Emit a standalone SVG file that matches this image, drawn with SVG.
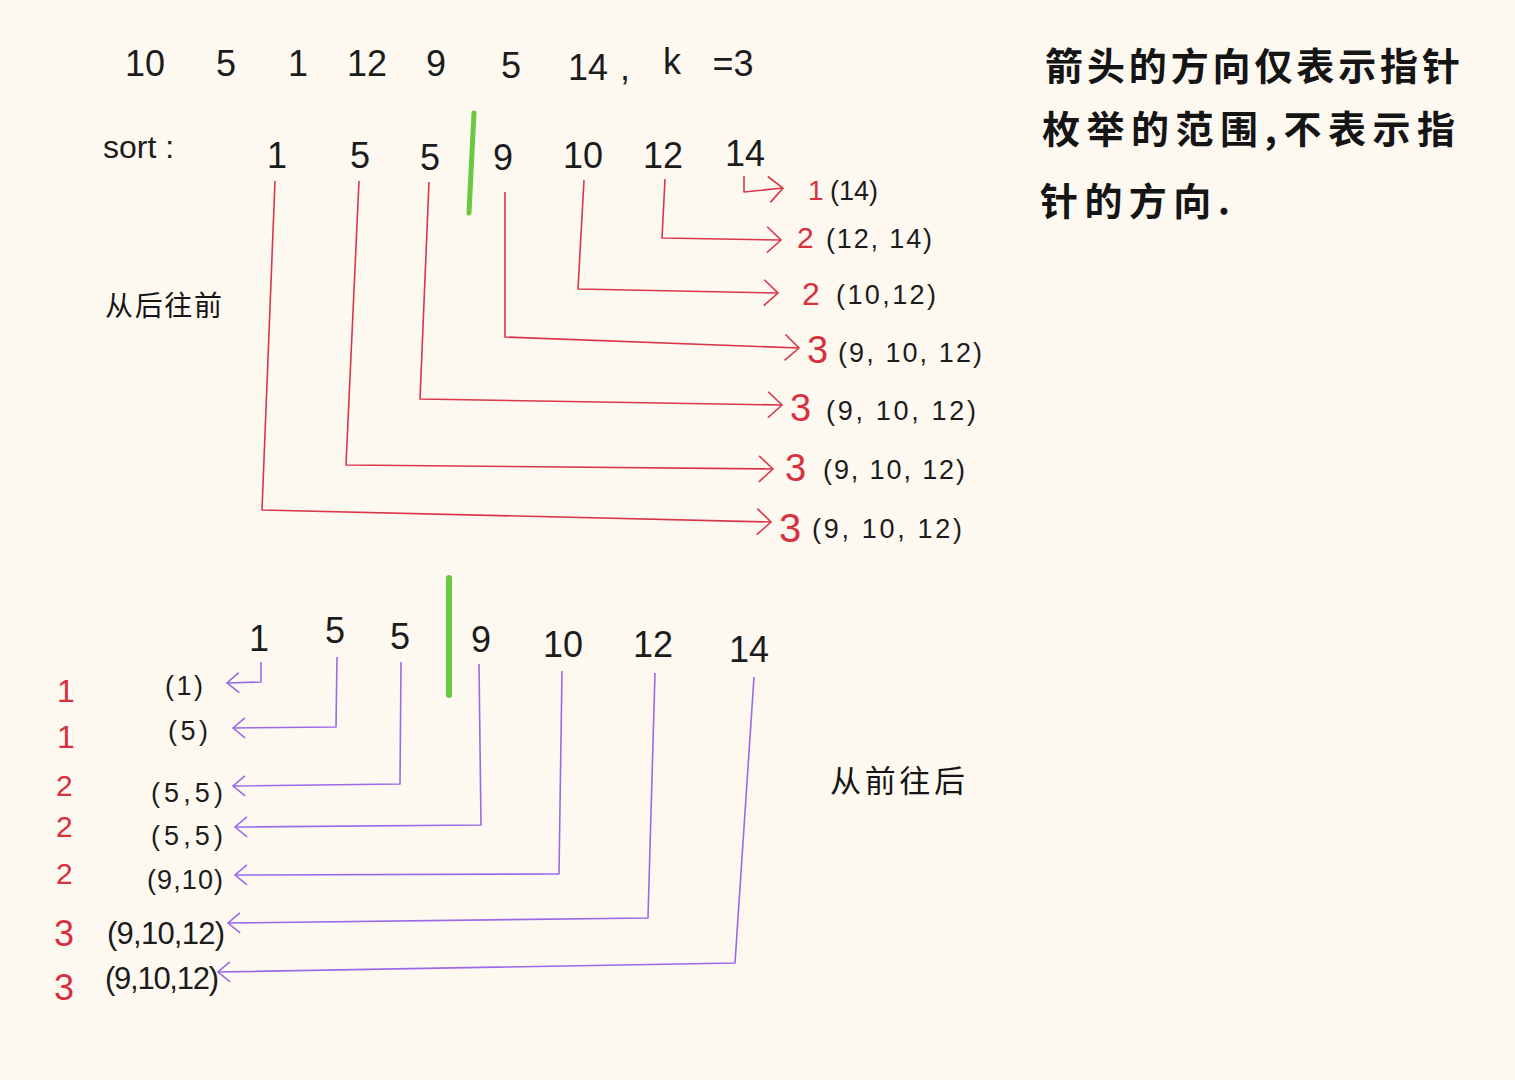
<svg xmlns="http://www.w3.org/2000/svg" width="1515" height="1080" viewBox="0 0 1515 1080">
<style>
.bg{fill:#fdf9f1}
.t{font-family:"Liberation Sans","Noto Sans CJK SC",sans-serif;fill:#1c1c1c}
.n{font-size:36px;text-anchor:middle}
.lab{font-size:27px}
.r{fill:#d7303f}
.cn{font-family:"Noto Sans CJK SC",sans-serif;fill:#151515}
.rl{fill:none;stroke:#d9364a;stroke-width:1.6;stroke-linejoin:round}
.pl{fill:none;stroke:#9b6ae8;stroke-width:1.6;stroke-linejoin:round}
.gb{fill:none;stroke:#6cc743;stroke-linecap:round}
</style>
<defs>
<marker id="ar" markerUnits="userSpaceOnUse" markerWidth="20" markerHeight="30" refX="15" refY="14" orient="auto" viewBox="0 0 20 30">
<path d="M1,1 L15,14 L1,27" fill="none" stroke="#d9364a" stroke-width="1.6"/>
</marker>
<marker id="ap" markerUnits="userSpaceOnUse" markerWidth="20" markerHeight="26" refX="15" refY="12" orient="auto" viewBox="0 0 20 26">
<path d="M3,2 L15,12 L3,22" fill="none" stroke="#9b6ae8" stroke-width="1.6"/>
</marker>
</defs>
<rect class="bg" x="0" y="0" width="1515" height="1080"/>

<g id="input-row" class="t">
<text class="n" x="145" y="76">10</text>
<text class="n" x="226" y="76">5</text>
<text class="n" x="298" y="76">1</text>
<text class="n" x="367" y="76">12</text>
<text class="n" x="436" y="76">9</text>
<text class="n" x="511" y="78">5</text>
<text class="n" x="588" y="80">14</text>
<text class="n" x="625" y="80">,</text>
<text class="n" x="672" y="74">k</text>
<text class="n" x="733" y="76">=3</text>
</g>

<g id="sorted-top" class="t">
<text x="103" y="158" style="font-size:32px">sort :</text>
<text class="n" x="277" y="168">1</text>
<text class="n" x="360" y="168">5</text>
<text class="n" x="430" y="170">5</text>
<text class="n" x="503" y="170">9</text>
<text class="n" x="583" y="168">10</text>
<text class="n" x="663" y="168">12</text>
<text class="n" x="745" y="166">14</text>
</g>
<g id="divider-top"><path class="gb" d="M474,113 L469,213" stroke-width="5"/></g>

<g id="note" class="cn">
<text x="1045" y="80" style="font-size:38px;font-weight:bold" textLength="415" lengthAdjust="spacing">箭头的方向仅表示指针</text>
<text x="1042" y="143" style="font-size:38px;font-weight:bold" textLength="413" lengthAdjust="spacing">枚举的范围,不表示指</text>
<text x="1040" y="215" style="font-size:38px;font-weight:bold" textLength="190" lengthAdjust="spacing">针的方向.</text>
</g>

<g id="label-back" class="cn"><text x="105" y="316" style="font-size:28px" textLength="117" lengthAdjust="spacing">从后往前</text></g>
<g id="label-front" class="cn"><text x="830" y="792" style="font-size:31px" textLength="135" lengthAdjust="spacing">从前往后</text></g>

<g id="results-top" class="t">
<text x="808" y="200" class="r" style="font-size:28px">1</text><text x="830" y="200" class="lab">(14)</text>
<text x="797" y="248" class="r" style="font-size:30px">2</text><text x="826" y="248" class="lab" textLength="106" lengthAdjust="spacing">(12, 14)</text>
<text x="802" y="305" class="r" style="font-size:32px">2</text><text x="836" y="304" class="lab" textLength="100" lengthAdjust="spacing">(10,12)</text>
<text x="807" y="363" class="r" style="font-size:38px">3</text><text x="838" y="362" class="lab" textLength="144" lengthAdjust="spacing">(9, 10, 12)</text>
<text x="790" y="421" class="r" style="font-size:38px">3</text><text x="826" y="420" class="lab" textLength="150" lengthAdjust="spacing">(9, 10, 12)</text>
<text x="785" y="481" class="r" style="font-size:38px">3</text><text x="823" y="479" class="lab" textLength="142" lengthAdjust="spacing">(9, 10, 12)</text>
<text x="779" y="542" class="r" style="font-size:40px">3</text><text x="812" y="538" class="lab" textLength="150" lengthAdjust="spacing">(9, 10, 12)</text>
</g>

<g id="sorted-bottom" class="t">
<text class="n" x="259" y="651">1</text>
<text class="n" x="335" y="643">5</text>
<text class="n" x="400" y="649">5</text>
<text class="n" x="481" y="652">9</text>
<text class="n" x="563" y="657">10</text>
<text class="n" x="653" y="657">12</text>
<text class="n" x="749" y="662">14</text>
</g>
<g id="divider-bottom"><path class="gb" d="M449,578 L449,695" stroke-width="6"/></g>

<g id="results-bottom" class="t">
<text x="57" y="702" class="r" style="font-size:32px">1</text><text x="165" y="695" class="lab" textLength="38" lengthAdjust="spacing">(1)</text>
<text x="57" y="748" class="r" style="font-size:32px">1</text><text x="168" y="740" class="lab" textLength="40" lengthAdjust="spacing">(5)</text>
<text x="56" y="796" class="r" style="font-size:30px">2</text><text x="151" y="802" class="lab" textLength="72" lengthAdjust="spacing">(5,5)</text>
<text x="56" y="837" class="r" style="font-size:30px">2</text><text x="151" y="845" class="lab" textLength="72" lengthAdjust="spacing">(5,5)</text>
<text x="56" y="884" class="r" style="font-size:30px">2</text><text x="147" y="889" class="lab" textLength="76" lengthAdjust="spacing">(9,10)</text>
<text x="54" y="946" class="r" style="font-size:36px">3</text><text x="107" y="944" style="font-size:31px" textLength="118" lengthAdjust="spacing">(9,10,12)</text>
<text x="54" y="1000" class="r" style="font-size:36px">3</text><text x="105" y="989" style="font-size:31px" textLength="114" lengthAdjust="spacing">(9,10,12)</text>
</g>

<g id="connectors">
<polyline class="rl" points="744,176 744,192 783,188" marker-end="url(#ar)"/>
<polyline class="rl" points="665,179 662,238 781,240" marker-end="url(#ar)"/>
<polyline class="rl" points="584,180 578,289 778,293" marker-end="url(#ar)"/>
<polyline class="rl" points="505,192 505,337 799,348" marker-end="url(#ar)"/>
<polyline class="rl" points="429,182 420,399 782,405" marker-end="url(#ar)"/>
<polyline class="rl" points="359,181 346,465 773,469" marker-end="url(#ar)"/>
<polyline class="rl" points="275,181 262,510 771,522" marker-end="url(#ar)"/>

<polyline class="pl" points="261,662 261,682 227,683" marker-end="url(#ap)"/>
<polyline class="pl" points="337,657 336,727 233,728" marker-end="url(#ap)"/>
<polyline class="pl" points="401,662 400,784 233,786" marker-end="url(#ap)"/>
<polyline class="pl" points="479,664 481,825 235,827" marker-end="url(#ap)"/>
<polyline class="pl" points="562,671 559,874 235,875" marker-end="url(#ap)"/>
<polyline class="pl" points="655,673 648,918 228,923" marker-end="url(#ap)"/>
<polyline class="pl" points="754,677 735,963 218,972" marker-end="url(#ap)"/>
</g>
</svg>
